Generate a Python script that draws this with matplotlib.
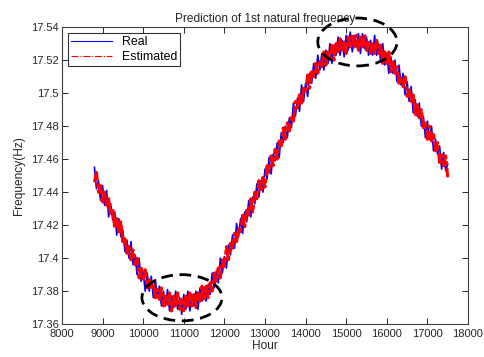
import numpy as np
import matplotlib.pyplot as plt
from matplotlib.patches import Ellipse

plt.rcParams['font.family'] = ['Liberation Sans', 'DejaVu Sans']

# sampling grid (hours) and read-off frequencies (Hz)
hours = np.arange(8800, 17501, 50)

real = [17.455, 17.442, 17.447, 17.435, 17.444, 17.432, 17.441, 17.425, 17.433, 17.423,
        17.428, 17.414, 17.424, 17.413, 17.417, 17.404, 17.411, 17.400, 17.410, 17.396,
        17.402, 17.390, 17.400, 17.386, 17.392, 17.380, 17.391, 17.380, 17.389, 17.376,
        17.387, 17.376, 17.383, 17.371, 17.380, 17.371, 17.381, 17.368, 17.377, 17.370,
        17.380, 17.369, 17.376, 17.366, 17.378, 17.369, 17.380, 17.368, 17.378, 17.371,
        17.380, 17.369, 17.382, 17.374, 17.382, 17.374, 17.384, 17.378, 17.391, 17.382,
        17.392, 17.385, 17.400, 17.391, 17.401, 17.394, 17.408, 17.402, 17.414, 17.406,
        17.421, 17.413, 17.424, 17.415, 17.428, 17.422, 17.435, 17.425, 17.437, 17.433,
        17.445, 17.437, 17.447, 17.440, 17.454, 17.448, 17.461, 17.451, 17.463, 17.459,
        17.470, 17.461, 17.476, 17.470, 17.480, 17.473, 17.485, 17.479, 17.494, 17.486,
        17.497, 17.489, 17.505, 17.495, 17.506, 17.498, 17.512, 17.506, 17.518, 17.509,
        17.523, 17.514, 17.524, 17.514, 17.526, 17.518, 17.530, 17.518, 17.529, 17.523,
        17.534, 17.523, 17.532, 17.522, 17.535, 17.526, 17.537, 17.525, 17.535, 17.528,
        17.536, 17.524, 17.536, 17.527, 17.534, 17.523, 17.532, 17.523, 17.535, 17.523,
        17.530, 17.519, 17.530, 17.517, 17.524, 17.512, 17.522, 17.512, 17.520, 17.507,
        17.517, 17.505, 17.512, 17.499, 17.507, 17.495, 17.504, 17.488, 17.496, 17.486,
        17.494, 17.480, 17.486, 17.473, 17.483, 17.472, 17.480, 17.465, 17.472, 17.463,
        17.468, 17.454, 17.464, 17.453, 17.457]

estimated = [17.446, 17.452, 17.440, 17.444, 17.433, 17.440, 17.432, 17.436, 17.426, 17.430,
             17.418, 17.424, 17.416, 17.422, 17.409, 17.413, 17.403, 17.407, 17.399, 17.405,
             17.396, 17.400, 17.388, 17.394, 17.386, 17.393, 17.382, 17.387, 17.381, 17.385,
             17.376, 17.381, 17.375, 17.382, 17.371, 17.378, 17.372, 17.379, 17.368, 17.377,
             17.371, 17.379, 17.369, 17.375, 17.367, 17.377, 17.371, 17.379, 17.371, 17.378,
             17.370, 17.379, 17.374, 17.383, 17.374, 17.383, 17.376, 17.385, 17.380, 17.391,
             17.386, 17.395, 17.388, 17.399, 17.395, 17.407, 17.399, 17.409, 17.406, 17.415,
             17.410, 17.418, 17.416, 17.426, 17.419, 17.429, 17.426, 17.436, 17.428, 17.440,
             17.436, 17.447, 17.440, 17.449, 17.443, 17.456, 17.452, 17.462, 17.456, 17.466,
             17.460, 17.471, 17.468, 17.479, 17.472, 17.482, 17.477, 17.486, 17.483, 17.495,
             17.491, 17.499, 17.493, 17.503, 17.500, 17.511, 17.503, 17.513, 17.510, 17.518,
             17.512, 17.519, 17.516, 17.525, 17.517, 17.525, 17.521, 17.529, 17.520, 17.530,
             17.525, 17.533, 17.525, 17.531, 17.524, 17.534, 17.528, 17.536, 17.528, 17.535,
             17.526, 17.534, 17.528, 17.536, 17.526, 17.532, 17.524, 17.530, 17.524, 17.532,
             17.524, 17.529, 17.518, 17.525, 17.518, 17.525, 17.513, 17.519, 17.512, 17.516,
             17.506, 17.510, 17.504, 17.510, 17.498, 17.502, 17.495, 17.499, 17.487, 17.493,
             17.485, 17.490, 17.479, 17.482, 17.472, 17.480, 17.471, 17.476, 17.465, 17.470,
             17.458, 17.464, 17.456, 17.462, 17.449]

# dashed marks: (centre hour, centre Hz, width hours, height Hz)
marks = [(10955, 17.376, 1970, 0.028), (15275, 17.531, 1950, 0.029)]

fig = plt.figure(figsize=(4.84, 3.57), dpi=100)
ax = fig.add_axes([0.128, 0.092, 0.839, 0.832])

ax.plot(hours, real, color=(0, 0, 1), linewidth=1.2, label='Real')
ax.plot(hours, estimated, color=(1, 0, 0), linewidth=2.2, dashes=(6, 0.8, 1.5, 0.8), label='Estimated')

for cx, cy, w, h in marks:
    ax.add_patch(Ellipse((cx, cy), w, h, fill=False, edgecolor='black',
                         linewidth=2.0, linestyle=(0, (4.2, 2.4)), clip_on=False, zorder=5))

ax.set_xlim(8000, 18000)
ax.set_ylim(17.36, 17.54)
ax.set_xticks(np.arange(8000, 18001, 1000))
ax.set_yticks(np.arange(17.36, 17.541, 0.02))
ax.set_yticklabels(['17.36', '17.38', '17.4', '17.42', '17.44', '17.46', '17.48', '17.5', '17.52', '17.54'])

ax.tick_params(axis='both', which='major', direction='in', length=4, width=0.7,
               top=True, right=True, labelsize=8, colors='#262626')
ax.tick_params(axis='x', pad=3.5)
ax.tick_params(axis='y', pad=2.5)
for s in ax.spines.values():
    s.set_linewidth(0.8)
    s.set_color('#404040')

ax.set_title('Prediction of 1st natural frequency', fontsize=8.6, color='#262626', pad=4)
ax.set_xlabel('Hour', fontsize=8.6, color='#262626', labelpad=1)
ax.set_ylabel('Frequency(Hz)', fontsize=8.6, color='#262626', labelpad=4)

leg = ax.legend(loc='upper left', fontsize=8.9, frameon=True, fancybox=False,
                handlelength=3.3, borderaxespad=0.5, borderpad=0.25, labelspacing=0.2)
leg.get_frame().set_edgecolor('black')
leg.get_frame().set_linewidth(0.8)
# thin legend keys, red one as a plain dash-dot
leg_lines = leg.get_lines()
leg_lines[0].set_linewidth(0.8)
leg_lines[1].set_linewidth(0.8)
leg_lines[1].set_linestyle('-.')

plt.savefig('out.png', dpi=100)
